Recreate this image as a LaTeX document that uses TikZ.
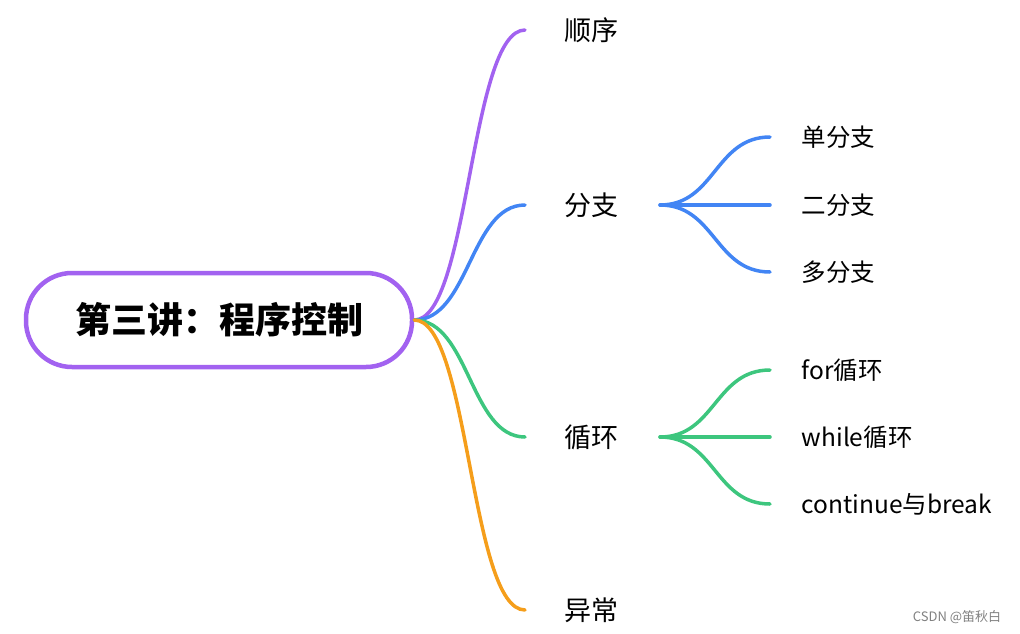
\documentclass[tikz,border=0pt]{standalone}
\usepackage{fontspec}
\setmainfont{Noto Sans CJK SC}
\usetikzlibrary{positioning}
\definecolor{cpurple}{HTML}{A262F0}
\definecolor{cblue}{HTML}{4285F4}
\definecolor{cgreen}{HTML}{3DC67E}
\definecolor{corange}{HTML}{F59E1B}
\tikzset{ topic/.style = { anchor = west % child topic
        , inner sep = 0pt
        , font = \fontsize{27}{30}\selectfont
        }
        , sub/.style = { anchor = west % second level
        , inner sep = 0pt
        , font = \fontsize{24.5}{28}\selectfont
        }
        }
\begin{document}
\begin{tikzpicture}[x=1pt, y=-1pt, line width=3.5pt, line cap=round,
        root_style/.style={draw=cpurple,line width=4.5pt,rounded corners=46pt,minimum width=386pt,minimum height=94pt,font=\fontsize{36}{40}\selectfont\bfseries},
        link/.style={to path={(\tikztostart) .. controls +(55,0) and +(-55,0) .. (\tikztotarget)}}]
        \useasboundingbox (0,0) rectangle (1020,633);

        \node [root_style](root) at (219,320) {第三讲：程序控制};
        \node [topic](seq) at (563,30) {顺序};
        \node [topic](branch) at (563,205) {分支};
        \node [topic](loop) at (563,437) {循环};
        \node [topic](exc) at (563,610) {异常};
        \node [sub](b1) at (800,137) {单分支};
        \node [sub](b2) at (800,205) {二分支};
        \node [sub](b3) at (800,272) {多分支};
        \node [sub](l1) at (800,370) {for循环};
        \node [sub](l2) at (800,437) {while循环};
        \node [sub](l3) at (800,504) {continue与break};
        \node [font=\fontsize{13}{15}\selectfont, text=gray](mark) at (957,617) {CSDN @笛秋白};
        \coordinate (bfork) at (660,205);
        \coordinate (lfork) at (660,437);

        \draw [cpurple] (root.east) to[link] ([xshift=-38]seq.west);
        \draw [cblue] (root.east) to[link] ([xshift=-38]branch.west);
        \draw [cgreen] (root.east) to[link] ([xshift=-38]loop.west);
        \draw [corange] (root.east) to[link] ([xshift=-38]exc.west);

        \foreach \t in {b1,b2,b3}
            \draw [cblue] (bfork) to[link] ([xshift=-30]\t.west);
        \foreach \t in {l1,l2,l3}
            \draw [cgreen] (lfork) to[link] ([xshift=-30]\t.west);
\end{tikzpicture}
\end{document}
